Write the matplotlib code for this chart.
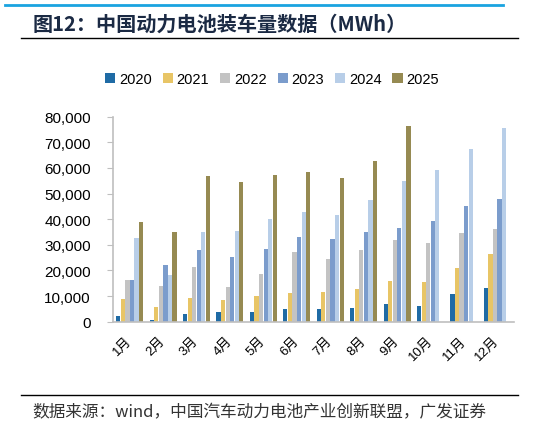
import numpy as np
import matplotlib
matplotlib.use('Agg')
import matplotlib.pyplot as plt
from matplotlib.ticker import FuncFormatter

plt.rcParams['font.family'] = ['Liberation Sans', 'Noto Sans CJK SC', 'DejaVu Sans']

# monthly installed volume of power batteries (MWh)
months = ['1月', '2月', '3月', '4月', '5月', '6月', '7月', '8月', '9月', '10月', '11月', '12月']
years = ['2020', '2021', '2022', '2023', '2024', '2025']
v2020 = [2340, 700, 2880, 3790, 3660, 4840, 5080, 5210, 6790, 6010, 10810, 13160]
v2021 = [8700, 5740, 9130, 8470, 9910, 11200, 11470, 12770, 15890, 15620, 20960, 26430]
v2022 = [16270, 13800, 21480, 13420, 18740, 27090, 24350, 27990, 31900, 30720, 34510, 36310]
v2023 = [16300, 22130, 27860, 25260, 28380, 33070, 32410, 35020, 36580, 39310, 45050, 48020]
v2024 = [32550, 18230, 35140, 35530, 40090, 42950, 41660, 47510, 54810, 59340, 67420, 75620]
v2025 = [38900, 35000, 56760, 54420, 57270, 58440, 56100, 62620, 76280]
series = [v2020, v2021, v2022, v2023, v2024, v2025]
colors = ['#1F6BA5', '#E8C566', '#C3C3C3', '#7B9CCC', '#B8CEE8', '#968A52']

fig = plt.figure(figsize=(5.53, 4.27), dpi=100)
ax = fig.add_axes([113 / 553, 1 - 322.7 / 427, 401 / 553, 205 / 427])

step = 0.137
bw = 0.125
for i, (vals, c, yr) in enumerate(zip(series, colors, years)):
    x = np.arange(len(vals)) + (i - 2.5) * step
    ax.bar(x, vals, width=bw, color=c, label=yr, zorder=2)

ax.set_xlim(-0.5, 11.5)
ax.set_ylim(0, 80000)
ax.set_yticks(np.arange(0, 80001, 10000))
ax.yaxis.set_major_formatter(FuncFormatter(lambda v, p: f'{int(v):,}'))
ax.tick_params(axis='y', labelsize=11, length=4, color='#BFBFBF', pad=12)
ax.set_xticks(np.arange(12))
ax.set_xticklabels(months, rotation=45, ha='right', va='center', rotation_mode='anchor',
                   fontsize=9.5, family=['Liberation Sans', 'Noto Sans CJK SC'])
ax.tick_params(axis='x', length=0, pad=12)
for s in ['top', 'right']:
    ax.spines[s].set_visible(False)
for s in ['left', 'bottom']:
    ax.spines[s].set_color('#BFBFBF')
    ax.spines[s].set_linewidth(1.2)

fig.legend(loc='center', bbox_to_anchor=(272 / 553, 1 - 80 / 427), ncol=6, frameon=False,
           fontsize=10.5, handlelength=0.7, handleheight=0.7, handletextpad=0.25,
           columnspacing=0.75)

# header and footer decorations
fig.add_artist(plt.Line2D([5 / 553, 503 / 553], [1 - 6 / 427] * 2, color='#1AA3E0', lw=2))
fig.add_artist(plt.Line2D([21 / 553, 518 / 553], [1 - 39 / 427] * 2, color='black', lw=1))
fig.add_artist(plt.Line2D([21 / 553, 518 / 553], [1 - 396 / 427] * 2, color='black', lw=1))
fig.text(33 / 553, 1 - 24 / 427, '图12：中国动力电池装车量数据（MWh）', fontsize=14.5,
         fontweight='bold', color='#1B2A44', va='center',
         family=['Noto Sans CJK SC', 'DejaVu Sans'])
fig.text(32 / 553, 1 - 413 / 427, '数据来源：wind，中国汽车动力电池产业创新联盟，广发证券', fontsize=12,
         color='#333333', va='center', family=['Noto Sans CJK SC', 'DejaVu Sans'])

fig.savefig('out.png', dpi=100)
